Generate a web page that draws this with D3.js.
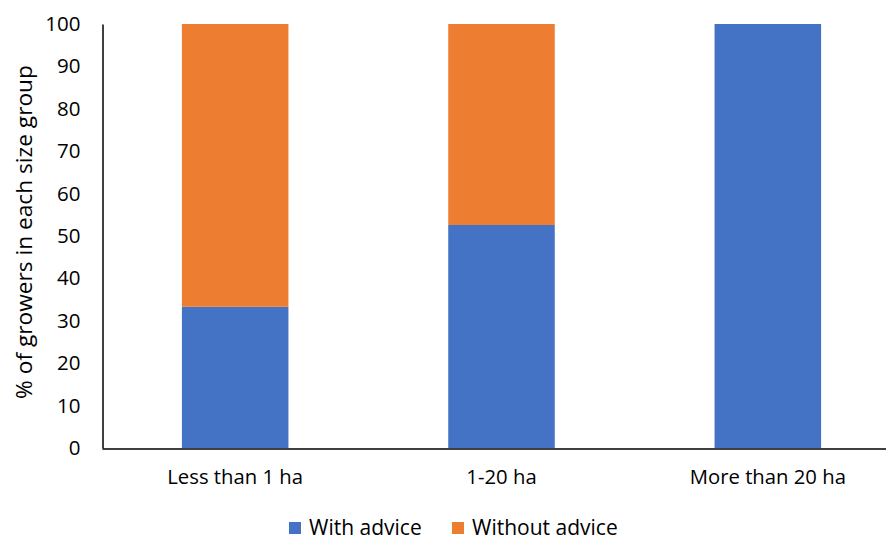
<!DOCTYPE html>
<html><head><meta charset="utf-8">
<script src="https://cdn.jsdelivr.net/npm/d3@7"></script>
<style>body{margin:0;background:#fff}svg{display:block}text{font-family:"Open Sans","Noto Sans",sans-serif;fill:#000}</style>
</head><body><svg id="c" width="886" height="540"></svg>
<script>
const categories = ["Less than 1 ha", "1-20 ha", "More than 20 ha"];
const withAdvice = [33.3, 52.6, 100];
const withoutAdvice = [66.7, 47.4, 0];
const seriesNames = ["With advice", "Without advice"];
const colors = ["#4472C4", "#ED7D31"];
const yTicks = [0,10,20,30,40,50,60,70,80,90,100];

const svg = d3.select("#c");
const x = d3.scaleBand().domain(categories).range([102, 901]).padding(0);
const y = d3.scaleLinear().domain([0,100]).range([448, 24]);
const bw = x.bandwidth()*0.4;

const data = categories.map((c,i)=>({cat:c, with:withAdvice[i], without:withoutAdvice[i]}));
const stack = d3.stack().keys(["with","without"])(data);
stack.forEach((s,si)=>{
  svg.append("g").selectAll("rect").data(s).join("rect")
    .attr("x", d=>x(d.data.cat)+x.bandwidth()/2-bw/2)
    .attr("width", bw)
    .attr("y", d=>y(d[1]))
    .attr("height", d=>y(d[0])-y(d[1]))
    .attr("fill", colors[si]);
});

const ya = svg.append("g").attr("transform","translate(102.5,0)")
  .call(d3.axisLeft(y).tickValues(yTicks).tickSize(0).tickPadding(22));
ya.attr("font-size",null).attr("font-family",null);
ya.select(".domain").attr("stroke","#000").attr("stroke-width",1.5);
ya.selectAll("text").style("font-size","20.5px");

const xa = svg.append("g").attr("transform","translate(0,448.5)")
  .call(d3.axisBottom(x).tickSize(0).tickPadding(21));
xa.attr("font-size",null).attr("font-family",null);
xa.select(".domain").attr("stroke","#000").attr("stroke-width",1.5);
xa.selectAll("text").style("font-size","20.3px");

svg.append("text").attr("transform","translate(32,232) rotate(-90)")
  .attr("text-anchor","middle").style("font-size","22.7px").text("% of growers in each size group");

const lx = [289, 452];
seriesNames.forEach((n,i)=>{
  svg.append("rect").attr("x",lx[i]).attr("y",522).attr("width",12).attr("height",12).attr("fill",colors[i]);
  svg.append("text").attr("x",lx[i]+20).attr("y",535).style("font-size","21px").text(n);
});
</script></body></html>
